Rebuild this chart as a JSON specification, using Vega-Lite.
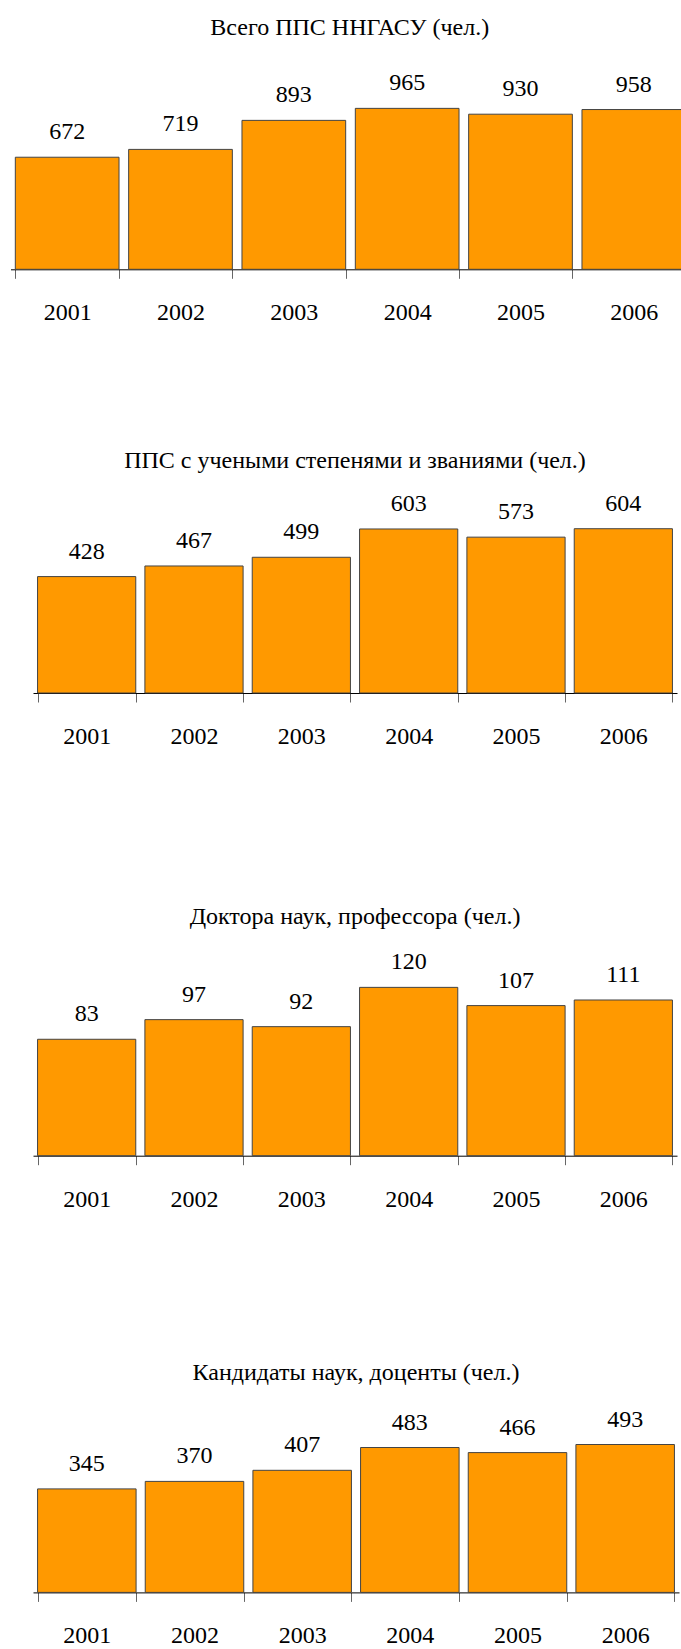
{
  "$schema": "https://vega.github.io/schema/vega-lite/v6.json",
  "padding": {"top": 16, "left": 10, "right": 0, "bottom": 0},
  "spacing": 0,
  "datasets": {
    "total": [
      {"year": "2001", "value": 672}, {"year": "2002", "value": 719}, {"year": "2003", "value": 893},
      {"year": "2004", "value": 965}, {"year": "2005", "value": 930}, {"year": "2006", "value": 958}
    ],
    "degrees": [
      {"year": "2001", "value": 428}, {"year": "2002", "value": 467}, {"year": "2003", "value": 499},
      {"year": "2004", "value": 603}, {"year": "2005", "value": 573}, {"year": "2006", "value": 604}
    ],
    "doctors": [
      {"year": "2001", "value": 83}, {"year": "2002", "value": 97}, {"year": "2003", "value": 92},
      {"year": "2004", "value": 120}, {"year": "2005", "value": 107}, {"year": "2006", "value": 111}
    ],
    "candidates": [
      {"year": "2001", "value": 345}, {"year": "2002", "value": 370}, {"year": "2003", "value": 407},
      {"year": "2004", "value": 483}, {"year": "2005", "value": 466}, {"year": "2006", "value": 493}
    ]
  },
  "vconcat": [
    {
      "data": {"name": "total"},
      "title": {"text": "Всего ППС ННГАСУ (чел.)", "frame": "group", "dx": -12},
      "width": 657.5,
      "height": 213.3,
      "encoding": {
        "x": {"field": "year", "type": "ordinal", "sort": null,
              "scale": {"paddingInner": 0.085, "paddingOuter": 0.0425, "range": [-22.5, 657.5]},
              "axis": {"title": null, "labelAngle": 0, "labelFont": "Liberation Serif", "labelFontSize": 24, "labelColor": "#000", "labelPadding": 22.5, "tickSize": 9, "tickColor": "#666", "domainColor": "#000", "tickBand": "extent", "minExtent": 179, "maxExtent": 400, "grid": false}},
        "y": {"field": "value", "type": "quantitative", "scale": {"domain": [0, 1279], "nice": false}, "axis": null}
      },
      "layer": [
        {"mark": {"type": "bar", "color": "#FF9900", "stroke": "#444", "strokeWidth": 1}},
        {"mark": {"type": "text", "dy": -25, "baseline": "middle", "font": "Liberation Serif", "fontSize": 24, "color": "#000"}, "encoding": {"text": {"field": "value", "type": "quantitative"}}}
      ]
    },
    {
      "data": {"name": "degrees"},
      "title": "ППС с учеными степенями и званиями (чел.)",
      "width": 644,
      "height": 204,
      "encoding": {
        "x": {"field": "year", "type": "ordinal", "sort": null,
              "scale": {"paddingInner": 0.085, "paddingOuter": 0.0425},
              "axis": {"title": null, "labelAngle": 0, "labelFont": "Liberation Serif", "labelFontSize": 24, "labelColor": "#000", "labelPadding": 22.5, "tickSize": 9, "tickColor": "#666", "domainColor": "#000", "tickBand": "extent", "minExtent": 212, "maxExtent": 400, "grid": false}},
        "y": {"field": "value", "type": "quantitative", "scale": {"domain": [0, 750], "nice": false},
              "axis": {"title": null, "labels": false, "ticks": false, "domain": false, "grid": false, "minExtent": 22.5}}
      },
      "layer": [
        {"mark": {"type": "bar", "color": "#FF9900", "stroke": "#444", "strokeWidth": 1}},
        {"mark": {"type": "text", "dy": -25, "baseline": "middle", "font": "Liberation Serif", "fontSize": 24, "color": "#000"}, "encoding": {"text": {"field": "value", "type": "quantitative"}}}
      ]
    },
    {
      "data": {"name": "doctors"},
      "title": "Доктора наук, профессора (чел.)",
      "width": 644,
      "height": 210.7,
      "encoding": {
        "x": {"field": "year", "type": "ordinal", "sort": null,
              "scale": {"paddingInner": 0.085, "paddingOuter": 0.0425},
              "axis": {"title": null, "labelAngle": 0, "labelFont": "Liberation Serif", "labelFontSize": 24, "labelColor": "#000", "labelPadding": 22.5, "tickSize": 9, "tickColor": "#666", "domainColor": "#000", "tickBand": "extent", "minExtent": 205.3, "maxExtent": 400, "grid": false}},
        "y": {"field": "value", "type": "quantitative", "scale": {"domain": [0, 150.2], "nice": false},
              "axis": {"title": null, "labels": false, "ticks": false, "domain": false, "grid": false, "minExtent": 22.5}}
      },
      "layer": [
        {"mark": {"type": "bar", "color": "#FF9900", "stroke": "#444", "strokeWidth": 1}},
        {"mark": {"type": "text", "dy": -25, "baseline": "middle", "font": "Liberation Serif", "fontSize": 24, "color": "#000"}, "encoding": {"text": {"field": "value", "type": "quantitative"}}}
      ]
    },
    {
      "data": {"name": "candidates"},
      "title": "Кандидаты наук, доценты (чел.)",
      "width": 646,
      "height": 191.4,
      "encoding": {
        "x": {"field": "year", "type": "ordinal", "sort": null,
              "scale": {"paddingInner": 0.085, "paddingOuter": 0.0425},
              "axis": {"title": null, "labelAngle": 0, "labelFont": "Liberation Serif", "labelFontSize": 24, "labelColor": "#000", "labelPadding": 22.5, "tickSize": 9, "tickColor": "#666", "domainColor": "#000", "tickBand": "extent", "grid": false}},
        "y": {"field": "value", "type": "quantitative", "scale": {"domain": [0, 638], "nice": false},
              "axis": {"title": null, "labels": false, "ticks": false, "domain": false, "grid": false, "minExtent": 22.5}}
      },
      "layer": [
        {"mark": {"type": "bar", "color": "#FF9900", "stroke": "#444", "strokeWidth": 1}},
        {"mark": {"type": "text", "dy": -25, "baseline": "middle", "font": "Liberation Serif", "fontSize": 24, "color": "#000"}, "encoding": {"text": {"field": "value", "type": "quantitative"}}}
      ]
    }
  ],
  "config": {
    "view": {"stroke": null},
    "font": "Liberation Serif",
    "title": {"font": "Liberation Serif", "fontSize": 24, "fontWeight": "normal", "color": "#000", "baseline": "bottom", "offset": 16, "frame": "group", "anchor": "middle"},
    "axis": {"labelFont": "Liberation Serif", "domainWidth": 1, "tickWidth": 1},
    "text": {"font": "Liberation Serif"}
  }
}
